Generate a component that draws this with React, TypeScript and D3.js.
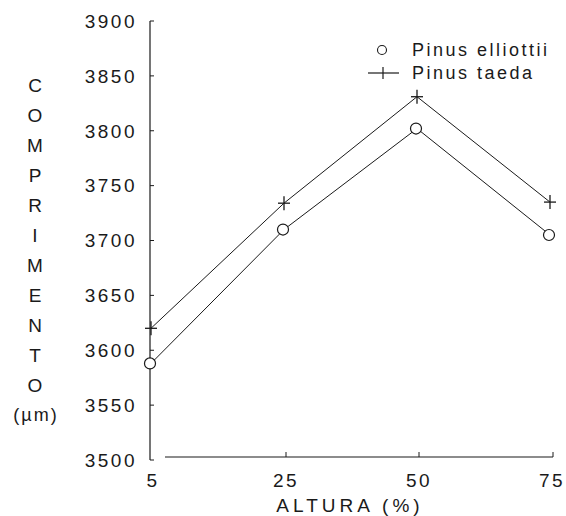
import React from "react";
import * as d3 from "d3";

const categories = ["5", "25", "50", "75"];
const elliottii = [3588, 3710, 3802, 3705];
const taeda = [3620, 3734, 3831, 3735];
const yTicks = [3500, 3550, 3600, 3650, 3700, 3750, 3800, 3850, 3900];
const yTitleLetters = ["C", "O", "M", "P", "R", "I", "M", "E", "N", "T", "O"];

export default function App() {
  const W = 566, H = 516;
  const x = d3.scalePoint<string>().domain(categories).range([151, 550]);
  const y = d3.scaleLinear().domain([3500, 3900]).range([460, 21]);
  const line = d3
    .line<number>()
    .x((_, i) => x(categories[i]) as number)
    .y((d) => y(d));
  const font = "Liberation Sans, Arial, Helvetica, sans-serif";
  const ink = "#1a1a1a";
  return (
    <svg
      width={W}
      height={H}
      style={{ position: "absolute", left: 0, top: 0, background: "#fff" }}
      fontFamily={font}
    >
      <rect width={W} height={H} fill="#fff" />
      {/* Y axis */}
      <line x1={150} x2={150} y1={y(3900)} y2={y(3500)} stroke={ink} strokeWidth={1.2} />
      {yTicks.map((t) => (
        <g key={t}>
          <line x1={150} x2={154} y1={y(t)} y2={y(t)} stroke={ink} strokeWidth={1} />
          <text
            x={137}
            y={y(t)}
            dy="0.36em"
            textAnchor="end"
            fontSize={19}
            letterSpacing={2.5}
            fill={ink}
          >
            {t}
          </text>
        </g>
      ))}
      {/* X axis */}
      <line x1={165} x2={x("75") as number + 3} y1={457} y2={457} stroke={ink} strokeWidth={1.2} />
      {categories.slice(1).map((c) => (
        <line
          key={c}
          x1={(x(c) as number) + (c === "75" ? 3 : 2)}
          x2={(x(c) as number) + (c === "75" ? 3 : 2)}
          y1={457}
          y2={452}
          stroke={ink}
          strokeWidth={1}
        />
      ))}
      {categories.map((c) => (
        <text
          key={c}
          x={(x(c) as number) + 2}
          y={487}
          textAnchor="middle"
          fontSize={19}
          letterSpacing={2.5}
          fill={ink}
        >
          {c}
        </text>
      ))}
      <text x={350} y={512} textAnchor="middle" fontSize={19} letterSpacing={4} fill={ink}>
        ALTURA (%)
      </text>
      {/* Y title */}
      {yTitleLetters.map((l, i) => (
        <text
          key={i}
          x={35}
          y={85 + i * 30}
          dy="0.36em"
          textAnchor="middle"
          fontSize={19}
          fill={ink}
        >
          {l}
        </text>
      ))}
      <text x={36} y={415} dy="0.36em" textAnchor="middle" fontSize={18} letterSpacing={2} fill={ink}>
        (µm)
      </text>
      {/* Series lines */}
      <path d={line(elliottii) || ""} fill="none" stroke={ink} strokeWidth={1} />
      <path d={line(taeda) || ""} fill="none" stroke={ink} strokeWidth={1} />
      {elliottii.map((v, i) => (
        <circle
          key={"e" + i}
          cx={(x(categories[i]) as number) - 1}
          cy={y(v)}
          r={5.5}
          fill="#fff"
          stroke={ink}
          strokeWidth={1.2}
        />
      ))}
      {taeda.map((v, i) => {
        const cx = x(categories[i]) as number;
        const cy = y(v);
        return (
          <g key={"t" + i} stroke={ink} strokeWidth={1.3}>
            <line x1={cx - 6} x2={cx + 6} y1={cy} y2={cy} />
            <line x1={cx} x2={cx} y1={cy - 7} y2={cy + 7} />
          </g>
        );
      })}
      {/* Legend */}
      <circle cx={382} cy={50} r={4.5} fill="#fff" stroke={ink} strokeWidth={1.1} />
      <text x={412} y={56} fontSize={18} letterSpacing={2.5} fill={ink}>
        Pinus elliottii
      </text>
      <line x1={368} x2={399} y1={73} y2={73} stroke={ink} strokeWidth={1.2} />
      <line x1={383} x2={383} y1={67} y2={79} stroke={ink} strokeWidth={1.2} />
      <text x={412} y={79} fontSize={18} letterSpacing={2.5} fill={ink}>
        Pinus taeda
      </text>
    </svg>
  );
}
